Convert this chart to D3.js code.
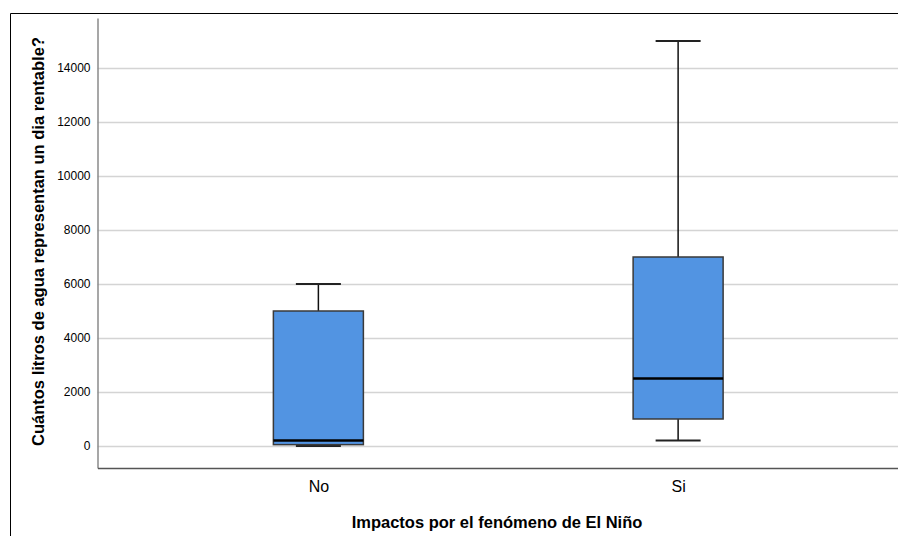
<!DOCTYPE html>
<html><head><meta charset="utf-8">
<script src="https://cdn.jsdelivr.net/npm/d3@7"></script>
<style>body{margin:0;background:#fff}svg{display:block}text{font-family:Arial,"Liberation Sans",sans-serif}</style>
</head><body>
<script>
const categories = ["No", "Si"];
const whiskerLow = [0, 200];
const q1 = [50, 1000];
const median = [200, 2500];
const q3 = [5000, 7000];
const whiskerHigh = [6000, 15000];
const yTicks = [0, 2000, 4000, 6000, 8000, 10000, 12000, 14000];
const xTitle = "Impactos por el fenómeno de El Niño";
const yTitle = "Cuántos litros de agua representan un dia rentable?";

const W = 898, H = 536;
const svg = d3.select("body").append("svg").attr("width", W).attr("height", H);

// outer frame
svg.append("path").attr("d", `M10.5,${H+2} V13.5 H${W+2}`).attr("fill","none").attr("stroke","#000").attr("stroke-width",1);

const pLeft = 97.5, pRight = 899, pTop = 18, pBottom = 468;
const y = d3.scaleLinear().domain([-815, 15852]).range([pBottom, pTop]);
const x = d3.scalePoint().domain(categories).range([pLeft, pRight]).padding(0.614);

// gridlines
svg.append("g").selectAll("line").data(yTicks).join("line")
  .attr("x1", pLeft).attr("x2", W).attr("y1", d => Math.round(y(d)) + 0.5).attr("y2", d => Math.round(y(d)) + 0.5)
  .attr("stroke", "#d4d4d4").attr("stroke-width", 1.5);

// y axis
const yAxis = d3.axisLeft(y).tickValues(yTicks).tickSize(0).tickPadding(7).tickFormat(d3.format("d"));
const gy = svg.append("g").attr("transform", `translate(${pLeft},0)`).call(yAxis);
gy.select(".domain").attr("stroke", "#8a8a8a").attr("stroke-width", 1.5);
gy.selectAll("text").attr("font-size", 12).attr("fill", "#000");

// x axis
const xAxis = d3.axisBottom(x).tickSize(0).tickPadding(12.5);
const gx = svg.append("g").attr("transform", `translate(0,${pBottom})`).call(xAxis);
gx.select(".domain").attr("stroke", "#555").attr("stroke-width", 1.5);
gx.selectAll("text").attr("font-size", 16).attr("fill", "#000");

// boxes
const boxW = 90, capW = 45;
const g = svg.append("g");
categories.forEach((c, i) => {
  const cx = x(c);
  g.append("line").attr("x1", cx).attr("x2", cx).attr("y1", y(whiskerHigh[i])).attr("y2", y(q3[i])).attr("stroke", "#111").attr("stroke-width", 1.5);
  g.append("line").attr("x1", cx).attr("x2", cx).attr("y1", y(q1[i])).attr("y2", y(whiskerLow[i])).attr("stroke", "#111").attr("stroke-width", 1.5);
  [whiskerHigh[i], whiskerLow[i]].forEach(v => {
    g.append("line").attr("x1", cx - capW/2).attr("x2", cx + capW/2).attr("y1", y(v)).attr("y2", y(v)).attr("stroke", "#222").attr("stroke-width", 2);
  });
  g.append("rect").attr("x", cx - boxW/2).attr("width", boxW)
    .attr("y", y(q3[i])).attr("height", y(q1[i]) - y(q3[i]))
    .attr("fill", "#5294e2").attr("stroke", "#3a3a3a").attr("stroke-width", 1.5);
  g.append("line").attr("x1", cx - boxW/2).attr("x2", cx + boxW/2).attr("y1", y(median[i])).attr("y2", y(median[i])).attr("stroke", "#000").attr("stroke-width", 2.5);
});

// titles
svg.append("text").attr("x", 497).attr("y", 528).attr("text-anchor", "middle")
  .attr("font-size", 16.5).attr("font-weight", "bold").text(xTitle);
svg.append("text").attr("transform", "translate(43.5,241.5) rotate(-90)").attr("text-anchor", "middle")
  .attr("font-size", 16.5).attr("font-weight", "bold").text(yTitle);
</script>
</body></html>
